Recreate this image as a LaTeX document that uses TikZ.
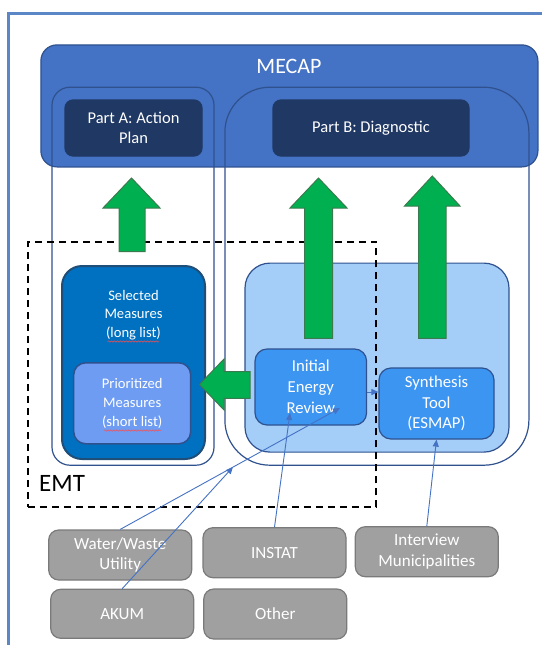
\documentclass[tikz,border=0pt]{standalone}
\usepackage{fontspec}
\setmainfont{Carlito}
\usepackage{tikz}
\usetikzlibrary{arrows.meta, decorations.pathmorphing}
\usepackage{xcolor}
\definecolor{frameBlue}{HTML}{5B87C7}
\definecolor{mecapBlue}{HTML}{4472C4}
\definecolor{edgeBlue}{HTML}{2F528F}
\definecolor{navyBox}{HTML}{203864}
\definecolor{selBlue}{HTML}{0070C0}
\definecolor{selEdge}{HTML}{1F4E79}
\definecolor{prioBlue}{HTML}{6E9CF2}
\definecolor{paleBlue}{HTML}{A4CDF8}
\definecolor{reviewBlue}{HTML}{3D95F2}
\definecolor{arrowGreen}{HTML}{00B050}
\definecolor{arrowEdge}{HTML}{3B7A4E}
\definecolor{greyBox}{HTML}{A0A0A0}
\definecolor{greyEdge}{HTML}{7A7A7A}
\definecolor{linkBlue}{HTML}{4472C4}

\begin{document}
\begin{tikzpicture}[
  x=1pt, y=-1pt,
  panel/.style={rectangle, rounded corners=10pt, draw=edgeBlue, line width=1.2pt, inner sep=0pt, align=center, text=white},
  frameline/.style={draw=frameBlue, line width=3pt},
  source/.style={panel, fill=greyBox, draw=greyEdge, minimum width=143pt, minimum height=50pt, font=\fontsize{17}{20.5}\selectfont},
  bigArrow/.style={fill=arrowGreen, draw=arrowEdge, line width=1pt, line join=miter},
  link/.style={draw=linkBlue, line width=0.9pt, -{Triangle[length=7pt,width=6pt]}},
  spell/.style={draw=red!70, line width=0.5pt, decorate, decoration={snake, amplitude=0.7pt, segment length=3pt}}
]
\useasboundingbox (0,0) rectangle (542,645);

% page frame
\draw[frameline] (8.6,645) -- (8.6,13.3) -- (542,13.3);

% MECAP band and the two parts
\node[panel, fill=mecapBlue, rounded corners=16pt, minimum width=497pt, minimum height=122pt] (mecap) at (289.4,105.9) {};
\node[text=white, inner sep=0pt, font=\fontsize{22}{26}\selectfont] (mecapTxt) at (289,66) {MECAP};
\node[panel, rounded corners=18pt, minimum width=162pt, minimum height=378pt] (partAbox) at (133,276.2) {};
\node[panel, rounded corners=45pt, minimum width=304pt, minimum height=378pt] (partBbox) at (376.9,276.2) {};
\node[panel, fill=navyBox, draw=navyBox, rounded corners=8pt, minimum width=137pt, minimum height=56pt,
  font=\fontsize{16.5}{20}\selectfont] (partA) at (133.5,128) {Part A: Action\\Plan};
\node[panel, fill=navyBox, draw=navyBox, rounded corners=8pt, minimum width=196pt, minimum height=56pt,
  font=\fontsize{16.5}{20}\selectfont] (partB) at (371,128) {Part B: Diagnostic};

% measures
\node[panel, fill=selBlue, draw=selEdge, line width=2pt, rounded corners=20pt, minimum width=143pt, minimum height=193pt] (selected) at (133.5,362.5) {};
\node[text=white, align=center, inner sep=0pt, font=\fontsize{14.6}{18.4}\selectfont] (selTxt) at (133.5,315) {Selected\\Measures\\(long list)};
\node[panel, fill=prioBlue, line width=1.5pt, rounded corners=12pt, minimum width=117pt, minimum height=81pt,
  font=\fontsize{14.6}{19}\selectfont] (prio) at (132.2,403.3) {Prioritized\\Measures\\(short list)};

% diagnostic inputs
\node[panel, fill=paleBlue, rounded corners=25pt, minimum width=264pt, minimum height=189pt] (diag) at (377,357.6) {};
\node[panel, fill=reviewBlue, rounded corners=12pt, minimum width=111.5pt, minimum height=76pt,
  font=\fontsize{16.7}{20.8}\selectfont] (ier) at (310.8,387) {Initial\\Energy\\Review};
\node[panel, fill=reviewBlue, rounded corners=12pt, minimum width=115pt, minimum height=71pt,
  font=\fontsize{16.7}{20.8}\selectfont] (synth) at (436.5,403.5) {Synthesis\\Tool\\(ESMAP)};

% EMT
\node[draw=black, dashed, dash pattern=on 7pt off 5pt, line width=1.8pt, minimum width=348pt, minimum height=265.6pt, inner sep=0pt] (emt) at (201.9,374.5) {};
\node[anchor=west, inner sep=0pt, font=\fontsize{25}{30}\selectfont] (emtTxt) at (39,483) {EMT};

% green arrows
\draw[bigArrow] (119,251.7) -- (119,208) -- (103,208) -- (131.5,178) -- (160,208) -- (145,208) -- (145,251.7) -- cycle;
\draw[bigArrow] (304.5,338.3) -- (304.5,208) -- (290,208) -- (318.5,178) -- (347,208) -- (332.5,208) -- (332.5,338.3) -- cycle;
\draw[bigArrow] (418.5,338.3) -- (418.5,206) -- (404.5,206) -- (432.3,176) -- (460,206) -- (446,206) -- (446,338.3) -- cycle;
\draw[bigArrow] (250,371.7) -- (224,371.7) -- (224,359) -- (199.5,384.5) -- (224,410) -- (224,398.3) -- (250,398.3) -- cycle;

% sources
\node[source] (water) at (120.2,555) {Water/Waste\\Utility};
\node[source] (instat) at (274.5,552.7) {INSTAT};
\node[source] (interview) at (426.8,551.7) {Interview\\Municipalities};
\node[source, minimum height=49pt] (akum) at (122.2,613.8) {AKUM};
\node[source] (other) at (275.3,614) {Other};

% connectors
\coordinate (akumEnd) at (233,467);
\coordinate (waterEnd) at (340,408);
\coordinate (instatEnd) at (290,413);
\draw[link] (akum.north) -- (akumEnd);
\draw[link] (water.north) -- (waterEnd);
\draw[link] (instat.north) -- (instatEnd);
\draw[link] (interview.north) -- (synth.south);
\draw[link] ([yshift=-5pt]ier.east) -- ([yshift=-5pt]ier.east -| synth.west);

% spelling marks
\draw[spell] (107.5,341.5) -- (159,341.5);
\draw[spell] (104,430.5) -- (161,430.5);

\end{tikzpicture}
\end{document}
